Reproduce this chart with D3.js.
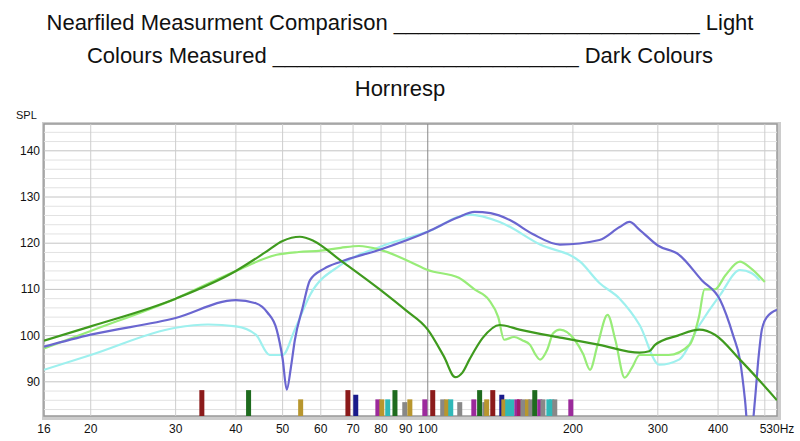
<!DOCTYPE html>
<html lang="en">
<head>
  <meta charset="UTF-8">
  <title>Nearfield Measurment Comparison</title>
  <script src="https://d3js.org/d3.v7.min.js"></script>
  <style>
    body { margin:0; background:#fff; font-family:'Liberation Sans', Arial, sans-serif; }
    .title { font-size:22px; fill:#111; }
  </style>
</head>
<body>
  <svg id="chart" width="800" height="441"></svg>
  <script>
    const titleLines = [
      'Nearfiled Measurment Comparison _________________________ Light',
      'Colours Measured _________________________ Dark Colours',
      'Hornresp'
    ];
    const xTicks = [16, 20, 30, 40, 50, 60, 70, 80, 90, 100, 200, 300, 400, 530];
    const xGrid = [20, 30, 40, 50, 60, 70, 80, 90, 100, 200, 300, 400, 500];
    const yTicks = [90, 100, 110, 120, 130, 140];

    // [freq Hz, dB]
    const darkGreen = [[16,98.9],[20,102],[30,108],[40,114],[46,118],[50,120.5],[54.3,121.4],[58,120.5],[65.7,116.4],[79.5,110],[90,105.5],[100,101.3],[108,95.5],[114,91],[118,92],[122,94.8],[130,99.5],[141,102.3],[155,101.3],[190,99.5],[227,98],[275,96.3],[288,96.6],[296,98],[330,100],[366,101.3],[394,100.2],[444,94.8],[490,90],[530,86]];
    const blue = [[16,97.6],[20,100.2],[30,103.8],[40,107.7],[44,107],[46.5,105],[48.6,101.3],[50,95],[51,88.3],[52,93],[53,99],[55,106],[57,112],[61,114.5],[66,116],[79.5,118.6],[100,122.5],[115,125.5],[125,126.8],[135,126.5],[148,125],[165,122],[188,119.7],[227,120.7],[250,123.5],[262,124.6],[275,122.9],[300,119.5],[332,117.5],[370,112],[404,107.7],[430,100],[444,94.8],[455,86],[461,80],[470,80],[477,86],[485,95],[493,101.3],[505,104],[530,105.6]];
    const lightGreen = [[16,97.2],[20,101],[30,108],[40,114],[48.6,117.5],[54,118.1],[60,118.4],[66,119],[72,119.4],[79.5,118.6],[91.8,116],[100,114.2],[116,112.5],[125,110],[134,107.7],[140,104],[144,99.1],[151,99.7],[157,99],[163,98],[167,96],[171,94.8],[177,97],[182,100.5],[188,101.3],[202,99],[210,96],[217,92.6],[225,98],[236,104.5],[245,99],[256,90.9],[265,93],[275,95.8],[316,95.8],[349,98],[365,104],[375,110],[394,110],[414,113],[444,116],[466,114.7],[500,111.6]];
    const cyan = [[16,92.6],[20,95.8],[30,101.7],[35,102.4],[40,102],[44,100.2],[47,95.8],[50,95.8],[53,101.3],[57,108.8],[66,115.3],[79.5,119.2],[100,122.5],[122,126.2],[141,124.6],[171,119.7],[207,116],[227,111.4],[250,108],[275,102.3],[302,93.7],[332,94.8],[366,102.3],[404,108.8],[444,114.2],[470,113.5],[488,112]];

    // marker bars
    const barFreqs = [34.0, 42.5, 54.5, 68.3, 70.9, 78.8, 80.3, 82.6, 85.5, 89.6, 91.8, 98.6, 102.4, 107.4, 109.5, 111.6, 116.5, 124.6, 128.1, 131.3, 132.5, 136.4, 142.4, 143.8, 146.5, 149.4, 153, 155, 157.5, 161, 163.6, 166.7, 170.7, 173.3, 178.3, 180.8, 183.4, 198];
    const barLevels = [88.2, 88.2, 86.2, 88.2, 87.2, 86.2, 86.2, 86.2, 88.2, 85.6, 86.2, 86.2, 88.2, 86.2, 86.2, 86.2, 85.6, 86.2, 88.2, 85.6, 86.2, 88.2, 87.2, 86.2, 86.2, 86.2, 86.2, 86.2, 86.2, 86.2, 86.2, 88.2, 86.2, 86.2, 86.2, 86.2, 86.2, 86.2];
    const barColors = ['#8b1a1a','#1e6b1e','#b8962e','#8b1a1a','#1a1a8b','#9b2a9b','#b8962e','#2fb8b8','#1e6b1e','#888','#b8962e','#9b2a9b','#8b1a1a','#888','#b8962e','#2fb8b8','#888','#9b2a9b','#1e6b1e','#888','#b8962e','#8b1a1a','#1a1a8b','#b8962e','#2fb8b8','#2fb8b8','#9b2a9b','#a01a6b','#888','#b8962e','#888','#1e6b1e','#9b2a9b','#888','#2fb8b8','#2fb8b8','#888','#9b2a9b'];

    const svg = d3.select('#chart');
    const pL = 44, pR = 777, pT = 124, pB = 416;
    const x = d3.scaleLog().domain([16, 530]).range([pL, pR]);
    const y = d3.scaleLinear().domain([82.6, 145.8]).range([pB, pT]);

    svg.selectAll('text.title').data(titleLines).enter().append('text')
      .attr('class','title').attr('x',400).attr('y',(d,i)=>30 + i*33)
      .attr('text-anchor','middle').text(d=>d);

    // frame shadow + background
    svg.append('rect').attr('x',pL-2).attr('y',pT-2).attr('width',pR-pL+6).attr('height',pB-pT+6).attr('fill','#ccc');
    svg.append('rect').attr('x',pL).attr('y',pT).attr('width',pR-pL).attr('height',pB-pT).attr('fill','#fff').attr('stroke','#999').attr('stroke-width',1.5);

    const g = svg.append('g');
    g.selectAll('line.hmin').data(d3.range(84, 146, 2)).enter().append('line')
      .attr('x1',pL).attr('x2',pR).attr('y1',d=>y(d)).attr('y2',d=>y(d))
      .attr('stroke', d=> d%10===0 ? '#c4c4c4' : '#e2e2e2').attr('stroke-width',1);
    g.selectAll('line.v').data(xGrid).enter().append('line')
      .attr('y1',pT).attr('y2',pB).attr('x1',d=>x(d)).attr('x2',d=>x(d))
      .attr('stroke', d=> d===100 ? '#888' : '#cdcdcd').attr('stroke-width',1);

    g.selectAll('rect.bar').data(barFreqs).enter().append('rect')
      .attr('x',d=>x(d)-2.5).attr('width',5)
      .attr('y',(d,i)=>y(barLevels[i])).attr('height',(d,i)=>pB - y(barLevels[i]))
      .attr('fill',(d,i)=>barColors[i]);

    svg.append('clipPath').attr('id','clip').append('rect')
      .attr('x',pL).attr('y',pT).attr('width',pR-pL).attr('height',pB-pT);
    const line = d3.line().x(d=>x(d[0])).y(d=>y(d[1])).curve(d3.curveMonotoneX);
    const series = [
      [cyan, '#9ef0ee'], [lightGreen, '#98ec78'], [blue, '#6a66d0'], [darkGreen, '#3f9a1e']
    ];
    series.forEach(([data, col]) => {
      svg.append('path').datum(data).attr('d', line).attr('fill','none')
        .attr('stroke', col).attr('stroke-width', 2.2).attr('clip-path','url(#clip)');
    });

    svg.selectAll('text.xl').data(xTicks).enter().append('text')
      .attr('x',d=>x(d)).attr('y',433).attr('text-anchor','middle')
      .attr('font-size',12).attr('fill','#111').text(d=> d===530 ? '530Hz' : d);
    svg.selectAll('text.yl').data(yTicks).enter().append('text')
      .attr('x',40).attr('y',d=>y(d)+4).attr('text-anchor','end')
      .attr('font-size',12).attr('fill','#111').text(d=>d);
    svg.append('text').attr('x',16).attr('y',119).attr('font-size',11).attr('fill','#111').text('SPL');
  </script>
</body>
</html>
